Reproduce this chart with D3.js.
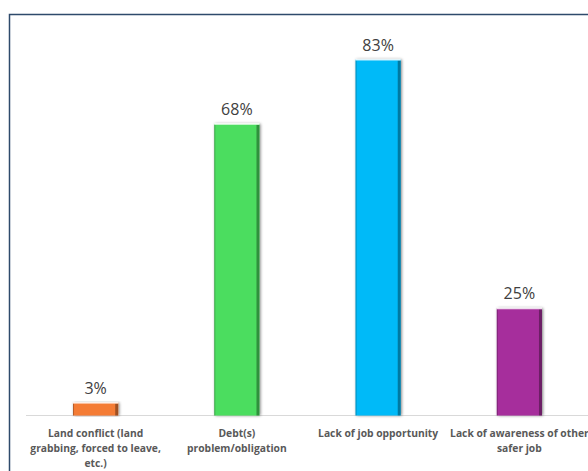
<!DOCTYPE html>
<html><head><meta charset="utf-8">
<script src="https://cdn.jsdelivr.net/npm/d3@7"></script>
<style>html,body{margin:0;background:#fff;overflow:hidden}svg{display:block;overflow:hidden}</style>
</head><body>
<script>
const categories = [
  ["Land conflict (land", "grabbing, forced to leave,", "etc.)"],
  ["Debt(s)", "problem/obligation"],
  ["Lack of job opportunity"],
  ["Lack of awareness of other", "safer job"]
];
const values = [3, 68, 83, 25];
const valueLabels = ["3%", "68%", "83%", "25%"];
const colors = ["#F47B36", "#4CDD5F", "#00BAF8", "#A62F9C"];

const W = 588, H = 471;
const svg = d3.select("body").append("svg").attr("width", W).attr("height", H);

const defs = svg.append("defs");
const f = defs.append("filter").attr("id","sh").attr("x","-30%").attr("y","-10%").attr("width","160%").attr("height","120%");
f.append("feGaussianBlur").attr("in","SourceAlpha").attr("stdDeviation",1.8).attr("result","b");
f.append("feOffset").attr("in","b").attr("dx",0.5).attr("dy",0).attr("result","o");
f.append("feComponentTransfer").attr("in","o").attr("result","o2")
  .append("feFuncA").attr("type","linear").attr("slope",0.5);
const m = f.append("feMerge");
m.append("feMergeNode").attr("in","o2");
m.append("feMergeNode").attr("in","SourceGraphic");

svg.append("rect").attr("width",W).attr("height",H).attr("fill","#fff");

// frame (top and left edges visible; the rest is cropped)
svg.append("path").attr("d",`M9.5,${H+5}V14.5H${W+5}`)
  .attr("fill","none").attr("stroke","#2E4A6B").attr("stroke-width",1.5);

const x = d3.scaleBand().domain(d3.range(values.length)).range([25, 590]).paddingInner(0.68).paddingOuter(0.34);
const y = d3.scaleLinear().domain([0, 83]).range([415.5, 59.5]);

svg.append("line").attr("x1",26).attr("x2",W).attr("y1",415.5).attr("y2",415.5)
  .attr("stroke","#D9D9D9").attr("stroke-width",1);

const g = svg.selectAll("g.bar").data(values).enter().append("g").attr("class","bar");
g.append("rect")
  .attr("x",(d,i)=>x(i)).attr("y",d=>y(d)).attr("width",x.bandwidth()).attr("height",d=>y(0)-y(d))
  .attr("fill",(d,i)=>colors[i]).attr("filter","url(#sh)");
g.append("rect")
  .attr("x",(d,i)=>x(i)+x.bandwidth()-3).attr("y",d=>y(d)+1).attr("width",3).attr("height",d=>y(0)-y(d)-1)
  .attr("fill","#000").attr("opacity",0.35);
g.append("rect")
  .attr("x",(d,i)=>x(i)).attr("y",d=>y(d)+1).attr("width",1).attr("height",d=>y(0)-y(d)-1)
  .attr("fill","#000").attr("opacity",0.25);
g.append("rect")
  .attr("x",(d,i)=>x(i)).attr("y",d=>y(d)-1).attr("width",x.bandwidth()).attr("height",2)
  .attr("fill","#fff").attr("opacity",0.8);

g.append("text")
  .attr("x",(d,i)=>x(i)+x.bandwidth()/2).attr("y",d=>y(d)-9)
  .attr("text-anchor","middle").attr("font-family","'Open Sans', 'Liberation Sans', sans-serif")
  .attr("font-size",16).attr("fill","#404040").text((d,i)=>valueLabels[i]);

const cat = svg.selectAll("text.cat").data(categories).enter().append("text").attr("class","cat")
  .attr("text-anchor","middle").attr("font-family","'Open Sans', 'Liberation Sans', sans-serif")
  .attr("font-weight","bold").attr("font-size",10.3).attr("fill","#595959");
cat.each(function(lines,i){
  const t = d3.select(this);
  lines.forEach((l,j)=>{
    t.append("tspan").attr("x",x(i)+x.bandwidth()/2).attr("y",437+j*15).text(l);
  });
});
</script>
</body></html>
